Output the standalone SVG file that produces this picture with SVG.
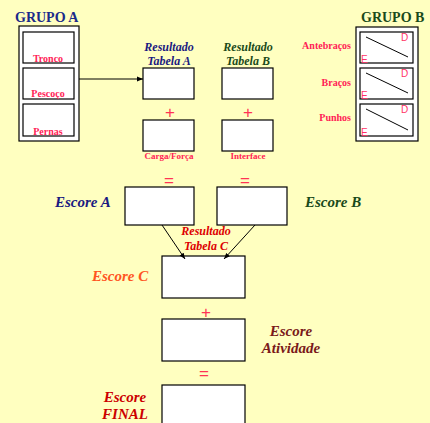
<svg xmlns="http://www.w3.org/2000/svg" width="430" height="423" viewBox="0 0 430 423">
<style>
.bg{fill:#ffffc0}
.box{fill:#fff;stroke:#000;stroke-width:1.2}
.outer{fill:#fff;stroke:#000;stroke-width:1.2}
.shadow{fill:#a0a0a0}
.grp{font-family:"Liberation Serif",serif;font-weight:bold;font-size:14px}
.part{font-family:"Liberation Serif",serif;font-weight:bold;font-size:10px;fill:#ff2255}
.small{font-family:"Liberation Serif",serif;font-weight:bold;font-size:9px;fill:#ff2255}
.res{font-family:"Liberation Serif",serif;font-weight:bold;font-style:italic;font-size:12px}
.score{font-family:"Liberation Serif",serif;font-weight:bold;font-style:italic;font-size:15px}
.op{font-family:"Liberation Sans",Arial,sans-serif;font-size:17px;fill:#ff3355;text-anchor:middle}
.de{font-family:"Liberation Sans",Arial,sans-serif;font-size:10px;fill:#ff3366}
.line{stroke:#000;stroke-width:1;fill:none}
</style>
<defs>
<marker id="ah" viewBox="0 0 10 10" refX="10" refY="5" markerWidth="6" markerHeight="6" orient="auto">
<path d="M0,1 L10,5 L0,9 z" fill="#000"/>
</marker>
</defs>
<rect class="bg" x="0" y="0" width="430" height="423"/>

<g id="grupoA">
<text class="grp" x="15" y="22" fill="#1a2a8a">GRUPO A</text>
<rect class="outer" x="19" y="26" width="60" height="115"/>
<rect class="box" x="23" y="32" width="51" height="31"/>
<rect class="box" x="23" y="68" width="51" height="31"/>
<rect class="box" x="23" y="104" width="51" height="32"/>
<text class="part" x="48" y="62" text-anchor="middle">Tronco</text>
<text class="part" x="48" y="97" text-anchor="middle">Pescoço</text>
<text class="part" x="48" y="135" text-anchor="middle">Pernas</text>
</g>

<g id="grupoB">
<text class="grp" x="361" y="22" fill="#1a4a1a">GRUPO B</text>
<rect class="outer" x="356" y="27" width="62" height="114"/>
<rect class="box" x="360" y="32" width="53" height="31"/>
<rect class="box" x="360" y="68" width="53" height="31"/>
<rect class="box" x="360" y="104" width="53" height="32"/>
<line class="line" x1="366" y1="37" x2="408" y2="57"/>
<line class="line" x1="366" y1="73" x2="408" y2="93"/>
<line class="line" x1="366" y1="109" x2="408" y2="130"/>
<text class="de" x="401" y="41">D</text>
<text class="de" x="401" y="77">D</text>
<text class="de" x="401" y="113">D</text>
<text class="de" x="361" y="63">E</text>
<text class="de" x="361" y="99">E</text>
<text class="de" x="361" y="136">E</text>
<text class="part" x="351" y="49" text-anchor="end">Antebraços</text>
<text class="part" x="351" y="86" text-anchor="end">Braços</text>
<text class="part" x="351" y="121" text-anchor="end">Punhos</text>
</g>

<g id="tabelaA">
<text class="res" x="169" y="51" text-anchor="middle" fill="#1a1a80">Resultado</text>
<text class="res" x="169" y="65" text-anchor="middle" fill="#1a1a80">Tabela A</text>
<rect class="box" x="143" y="68" width="51" height="31"/>
<text class="op" x="170" y="118">+</text>
<rect class="box" x="143" y="120" width="51" height="31"/>
<text class="small" x="169" y="159" text-anchor="middle">Carga/Força</text>
<text class="op" x="169" y="186">=</text>
</g>

<g id="tabelaB">
<text class="res" x="248" y="51" text-anchor="middle" fill="#1a4a1a">Resultado</text>
<text class="res" x="248" y="65" text-anchor="middle" fill="#1a4a1a">Tabela B</text>
<rect class="box" x="222" y="68" width="51" height="31"/>
<text class="op" x="248" y="118">+</text>
<rect class="box" x="222" y="120" width="51" height="31"/>
<text class="small" x="248" y="159" text-anchor="middle">Interface</text>
<text class="op" x="245" y="186">=</text>
</g>

<g id="escoreA">
<text class="score" x="55" y="207" fill="#1a1a80">Escore A</text>
<rect class="box" x="125" y="187" width="69" height="38"/>
</g>

<g id="escoreB">
<rect class="box" x="217" y="187" width="70" height="38"/>
<text class="score" x="305" y="207" fill="#1a4a1a">Escore B</text>
</g>

<g id="tabelaC">
<text class="res" x="206" y="235" text-anchor="middle" fill="#dd0000">Resultado</text>
<text class="res" x="206" y="250" text-anchor="middle" fill="#dd0000">Tabela C</text>
</g>

<g id="escoreC">
<text class="score" x="92" y="281" fill="#ff5522">Escore C</text>
<rect class="box" x="162" y="256" width="83" height="42"/>
<text class="op" x="206" y="318">+</text>
</g>

<g id="atividade">
<rect class="box" x="162" y="319" width="83" height="42"/>
<text class="score" x="291" y="336" text-anchor="middle" fill="#7a1a1a">Escore</text>
<text class="score" x="291" y="353" text-anchor="middle" fill="#7a1a1a">Atividade</text>
<text class="op" x="204" y="379">=</text>
</g>

<g id="final">
<rect class="box" x="162" y="385" width="83" height="45"/>
<text class="score" x="125" y="402" text-anchor="middle" fill="#cc0000">Escore</text>
<text class="score" x="125" y="419" text-anchor="middle" fill="#cc0000">FINAL</text>
</g>

<g id="connectors">
<line class="line" x1="79" y1="79" x2="143" y2="79" marker-end="url(#ah)"/>
<line class="line" x1="162" y1="225" x2="185" y2="259" stroke-width="0.8" marker-end="url(#ah)"/>
<line class="line" x1="255" y1="225" x2="224" y2="259" stroke-width="0.8" marker-end="url(#ah)"/>
</g>
</svg>
